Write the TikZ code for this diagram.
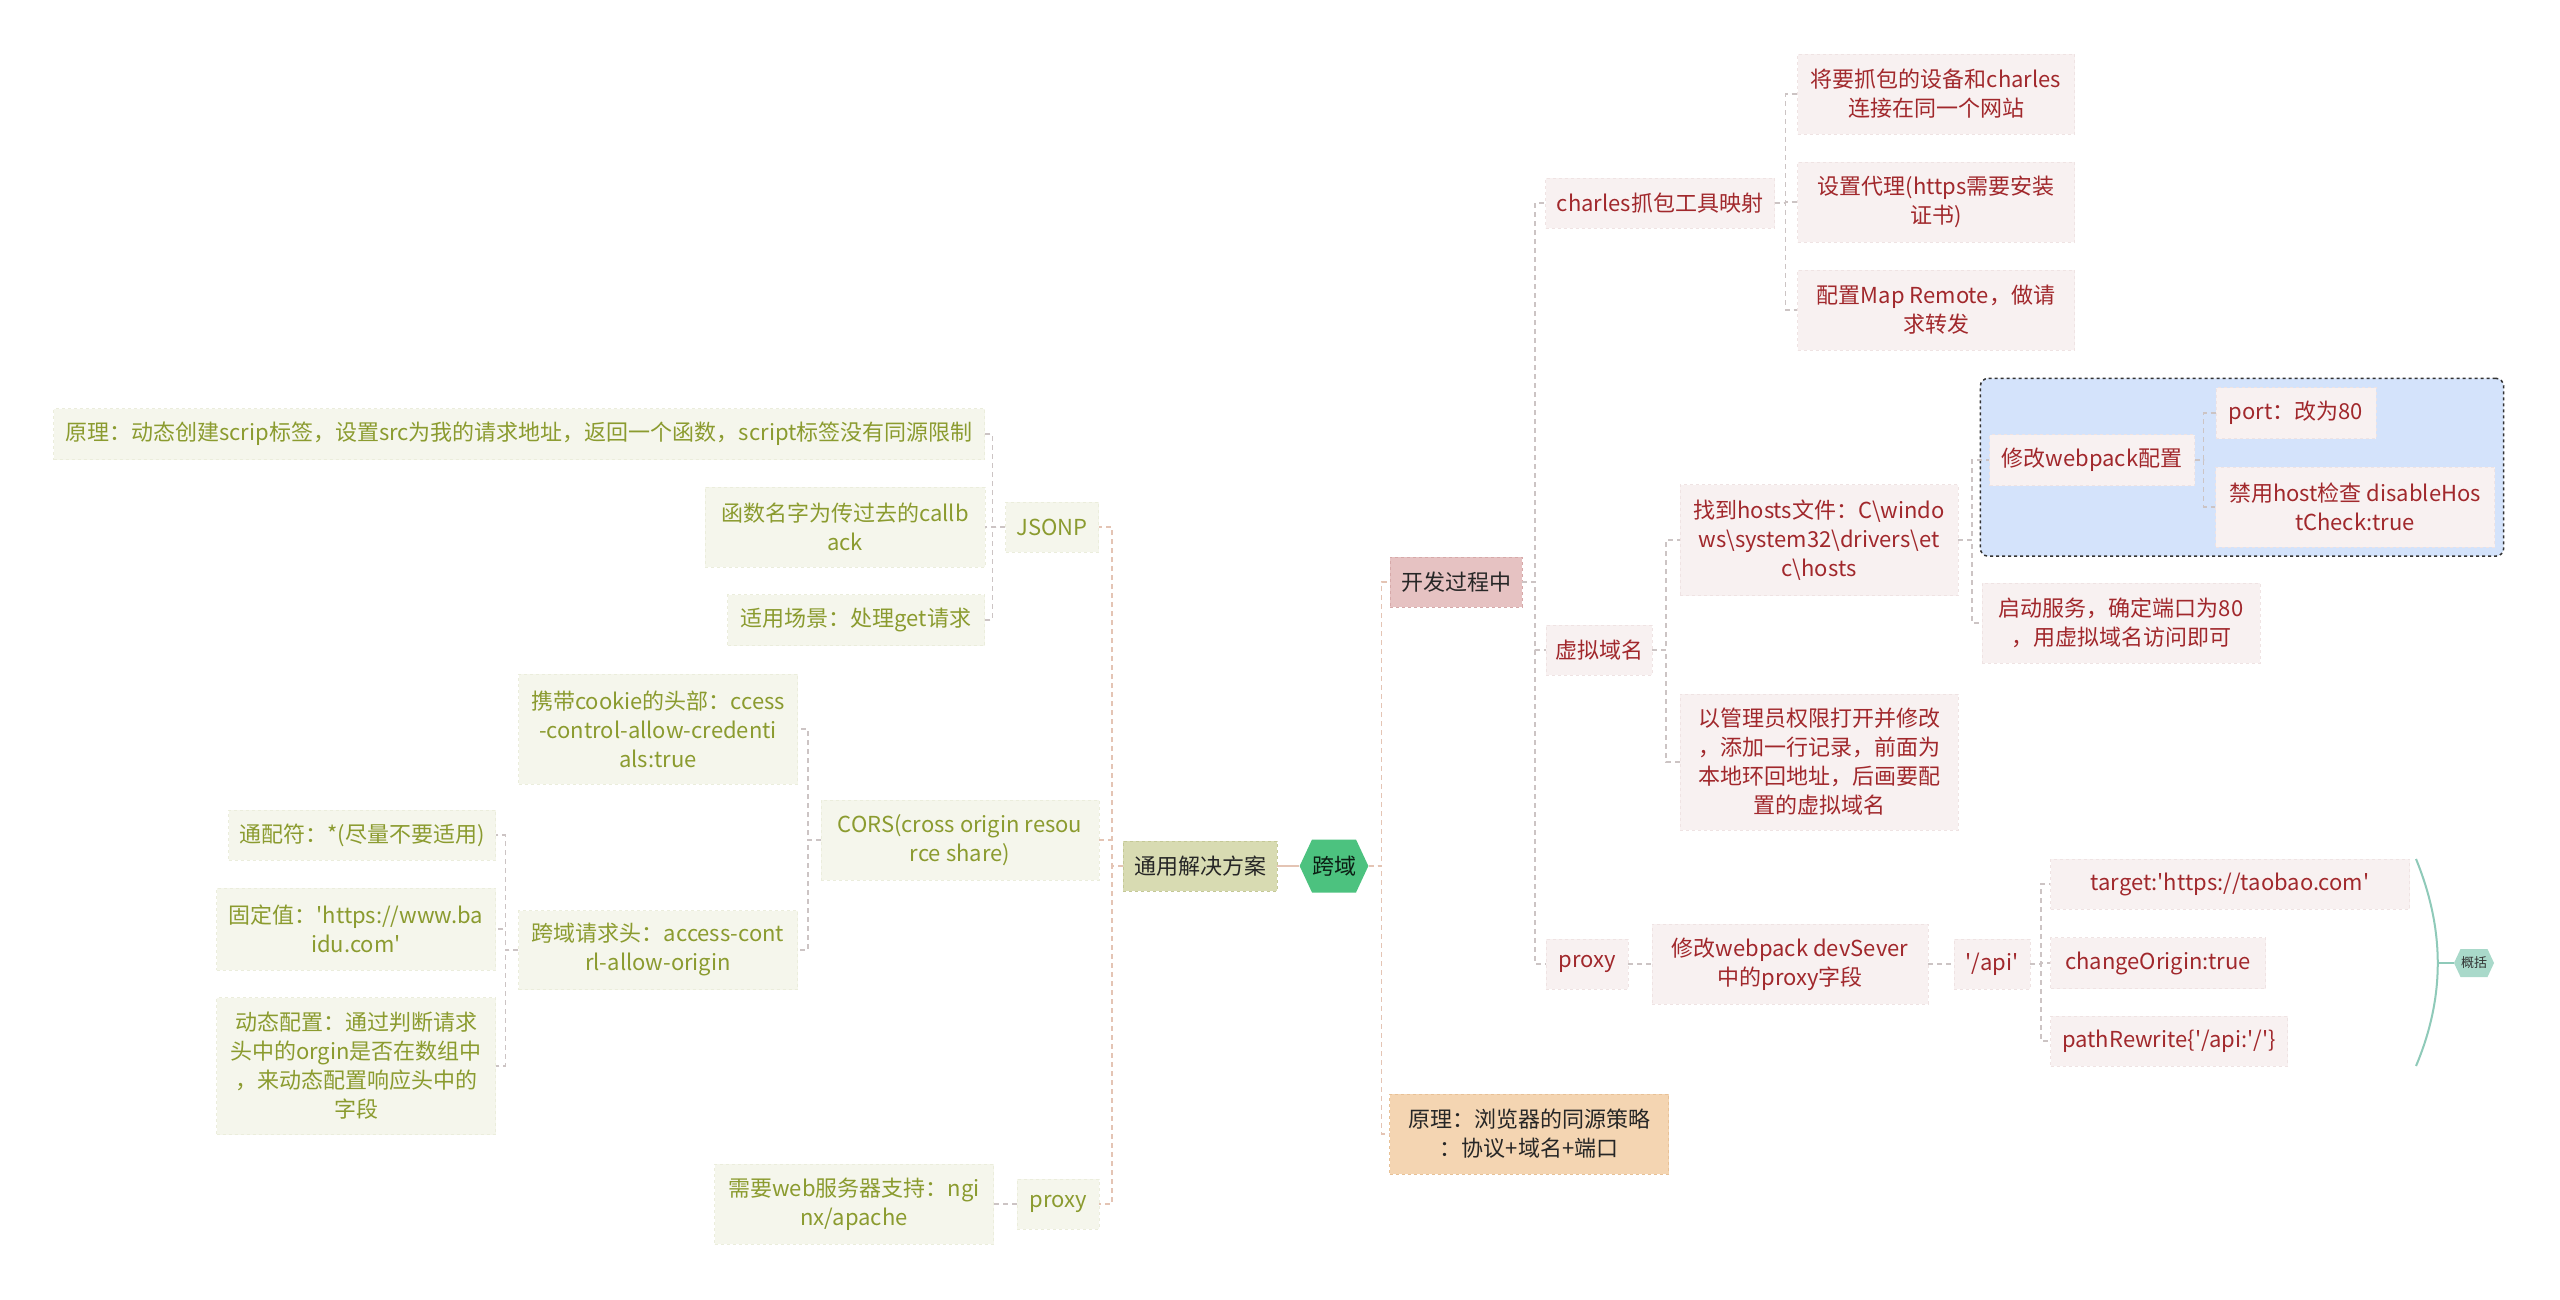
\documentclass[tikz,border=0pt]{standalone}
\usepackage{fontspec}
\setmainfont{Noto Sans CJK SC}
\usepackage{xcolor}
\usepackage{tikz}
\usetikzlibrary{shapes.symbols,fit,backgrounds}

\definecolor{rfill}{HTML}{F8F1F1}
\definecolor{rline}{HTML}{EFE3E3}
\definecolor{rtext}{HTML}{A1282C}
\definecolor{ofill}{HTML}{F5F6EC}
\definecolor{oline}{HTML}{EBEDDC}
\definecolor{otext}{HTML}{8B9B2F}
\definecolor{kfill}{HTML}{E6C2C2}
\definecolor{kline}{HTML}{D6A9A9}
\definecolor{tfill}{HTML}{D8DBB2}
\definecolor{tline}{HTML}{C4C896}
\definecolor{yfill}{HTML}{F4D5B2}
\definecolor{yline}{HTML}{E8C196}
\definecolor{green}{HTML}{4CC27F}
\definecolor{teal}{HTML}{A9D9CA}
\definecolor{tealline}{HTML}{8FCAB9}
\definecolor{bluefill}{HTML}{D4E3FB}
\definecolor{linkgray}{HTML}{CCC4C4}
\definecolor{trunk}{HTML}{E4C4B4}

\begin{document}
\begin{tikzpicture}[x=1pt,y=-1pt,font=\fontsize{22}{29}\selectfont,
  box/.style={inner sep=0pt,minimum height=50pt,align=center},
  rbox/.style={box,fill=rfill,draw=rline,dashed,text=rtext},
  obox/.style={box,fill=ofill,draw=oline,dashed,text=otext},
  hexa/.style={shape=signal,signal to=east and west,signal pointer angle=130,inner sep=0pt},
  link/.style={linkgray,dashed,dash pattern=on 5pt off 4pt,line width=1.5pt},
  trunkline/.style={trunk,dash pattern=on 5pt off 4pt,line width=1.5pt},
  brace/.style={tealline,line width=2pt}]
  \useasboundingbox (0,0) rectangle (2560,1300);

  % centre
  \node[hexa,fill=green,text=black!85!green,minimum width=67pt,minimum height=53pt] (kuayu) at (1334,866) {跨域};
  \node[box,fill=tfill,draw=tline,dashed,text=black!85,minimum width=154pt] (tongyong) at (1200,866) {通用解决方案};
  \node[box,fill=kfill,draw=kline,dashed,text=black!85,minimum width=132pt] (kaifa) at (1456,582) {开发过程中};
  \node[box,fill=yfill,draw=yline,dashed,text=black!85,minimum width=279pt,minimum height=80pt] (yuanli) at (1529,1134) {原理：浏览器的同源策略\\：协议+域名+端口};

  % right: development
  \node[rbox,minimum width=229pt] (charles) at (1660,203) {charles抓包工具映射};
  \node[rbox,minimum width=106pt] (xuni) at (1599,650) {虚拟域名};
  \node[rbox,minimum width=82pt] (proxyR) at (1587,964) {proxy};
  \node[rbox,minimum width=277pt,minimum height=80pt] (ch1) at (1936,94) {将要抓包的设备和charles\\连接在同一个网站};
  \node[rbox,minimum width=277pt,minimum height=80pt] (ch2) at (1936,202) {设置代理(https需要安装\\证书)};
  \node[rbox,minimum width=277pt,minimum height=80pt] (ch3) at (1936,310) {配置Map Remote，做请\\求转发};
  \node[rbox,minimum width=278pt,minimum height=111pt] (hosts) at (1819,540) {找到hosts文件：C\textbackslash windo\\ws\textbackslash system32\textbackslash drivers\textbackslash et\\c\textbackslash hosts};
  \node[rbox,minimum width=278pt,minimum height=136pt] (admin) at (1819,762) {以管理员权限打开并修改\\，添加一行记录，前面为\\本地环回地址，后画要配\\置的虚拟域名};
  \node[rbox,minimum width=205pt,minimum height=51pt] (webpack) at (2092,460) {修改webpack配置};
  \node[rbox,minimum width=278pt,minimum height=80pt] (start) at (2121,623) {启动服务，确定端口为80\\，用虚拟域名访问即可};
  \node[rbox,minimum width=160pt,minimum height=51pt] (port) at (2296,413) {port：改为80};
  \node[rbox,minimum width=279pt,minimum height=80pt] (disable) at (2355,507) {禁用host检查 disableHos\\tCheck:true};
  \node[rbox,minimum width=276pt,minimum height=80pt] (devsever) at (1790,964) {修改webpack devSever\\中的proxy字段};
  \node[rbox,minimum width=76pt] (api) at (1992,964) {\textquotesingle/api\textquotesingle};
  \node[rbox,minimum width=359pt] (target) at (2230,884) {target:\textquotesingle https://taobao.com\textquotesingle};
  \node[rbox,minimum width=215pt,minimum height=51pt] (change) at (2158,963) {changeOrigin:true};
  \node[rbox,minimum width=237pt] (rewrite) at (2169,1041) {pathRewrite\{\textquotesingle/api:\textquotesingle/\textquotesingle\}};
  \node[hexa,fill=teal,text=black!80,font=\fontsize{13}{15}\selectfont,minimum width=40pt,minimum height=28pt] (gaikuo) at (2474,963) {概括};

  % left: general solutions
  \node[obox,minimum width=93pt] (jsonp) at (1052,527) {JSONP};
  \node[obox,minimum width=278pt,minimum height=80pt] (cors) at (960,840) {CORS(cross origin resou\\rce share)};
  \node[obox,minimum width=82pt] (proxyL) at (1058,1204) {proxy};
  \node[obox,minimum width=931pt,minimum height=51pt] (js1) at (519,434) {原理：动态创建scrip标签，设置src为我的请求地址，返回一个函数，script标签没有同源限制};
  \node[obox,minimum width=280pt,minimum height=80pt] (js2) at (845,527) {函数名字为传过去的callb\\ack};
  \node[obox,minimum width=257pt,minimum height=51pt] (js3) at (856,620) {适用场景：处理get请求};
  \node[obox,minimum width=279pt,minimum height=110pt] (cookie) at (658,729) {携带cookie的头部：ccess\\-control-allow-credenti\\als:true};
  \node[obox,minimum width=279pt,minimum height=79pt] (origin) at (658,950) {跨域请求头：access-cont\\rl-allow-origin};
  \node[obox,minimum width=267pt] (or1) at (362,835) {通配符：*(尽量不要适用)};
  \node[obox,minimum width=279pt,minimum height=82pt] (or2) at (356,929) {固定值：\textquotesingle https://www.ba\\idu.com\textquotesingle};
  \node[obox,minimum width=279pt,minimum height=137pt] (or3) at (356,1066) {动态配置：通过判断请求\\头中的orgin是否在数组中\\，来动态配置响应头中的\\字段};
  \node[obox,minimum width=279pt,minimum height=80pt] (nginx) at (854,1204) {需要web服务器支持：ngi\\nx/apache};

  % connectors
  \draw[trunk,line width=1.5pt] (tongyong.east) -- (kuayu.west);
  \foreach \c in {kaifa,yuanli} \draw[trunkline] (kuayu.east) -- ++(13,0) |- (\c.west);
  \foreach \c in {jsonp,cors,proxyL} \draw[trunkline] (tongyong.west) -- ++(-11,0) |- (\c.east);
  \foreach \c in {charles,xuni,proxyR} \draw[link] (kaifa.east) -- ++(13,0) |- (\c.west);
  \foreach \c in {ch1,ch2,ch3} \draw[link] (charles.east) -- ++(11,0) |- (\c.west);
  \foreach \c in {hosts,admin} \draw[link] (xuni.east) -- ++(14,0) |- (\c.west);
  \foreach \c in {webpack,start} \draw[link] (hosts.east) -- ++(14,0) |- (\c.west);
  \foreach \c in {port,disable} \draw[link] (webpack.east) -- ++(9,0) |- (\c.west);
  \draw[link] (proxyR.east) -- (devsever.west);
  \draw[link] (devsever.east) -- (api.west);
  \foreach \c in {target,change,rewrite} \draw[link] (api.east) -- ++(11,0) |- (\c.west);
  \foreach \c in {js1,js2,js3} \draw[link] (jsonp.west) -- ++(-13,0) |- (\c.east);
  \foreach \c in {cookie,origin} \draw[link] (cors.west) -- ++(-13,0) |- (\c.east);
  \foreach \c in {or1,or2,or3} \draw[link] (origin.west) -- ++(-13,0) |- (\c.east);
  \draw[link] (proxyL.west) -- (nginx.east);

  % summary brace
  \coordinate (brtip) at (2438,963);
  \draw[brace] (2416,859) .. controls (2445,930) and (2445,997) .. (2416,1066);
  \draw[brace] (brtip) -- (gaikuo.west);

  \begin{scope}[on background layer]
    \fill[white] (0,0) rectangle (2560,1300);
    \node[fit=(webpack)(port)(disable),inner xsep=9pt,inner ysep=9pt,rounded corners=8pt,fill=bluefill,draw=black!80,dashed,line width=1.5pt] (group) {};
  \end{scope}
\end{tikzpicture}
\end{document}
